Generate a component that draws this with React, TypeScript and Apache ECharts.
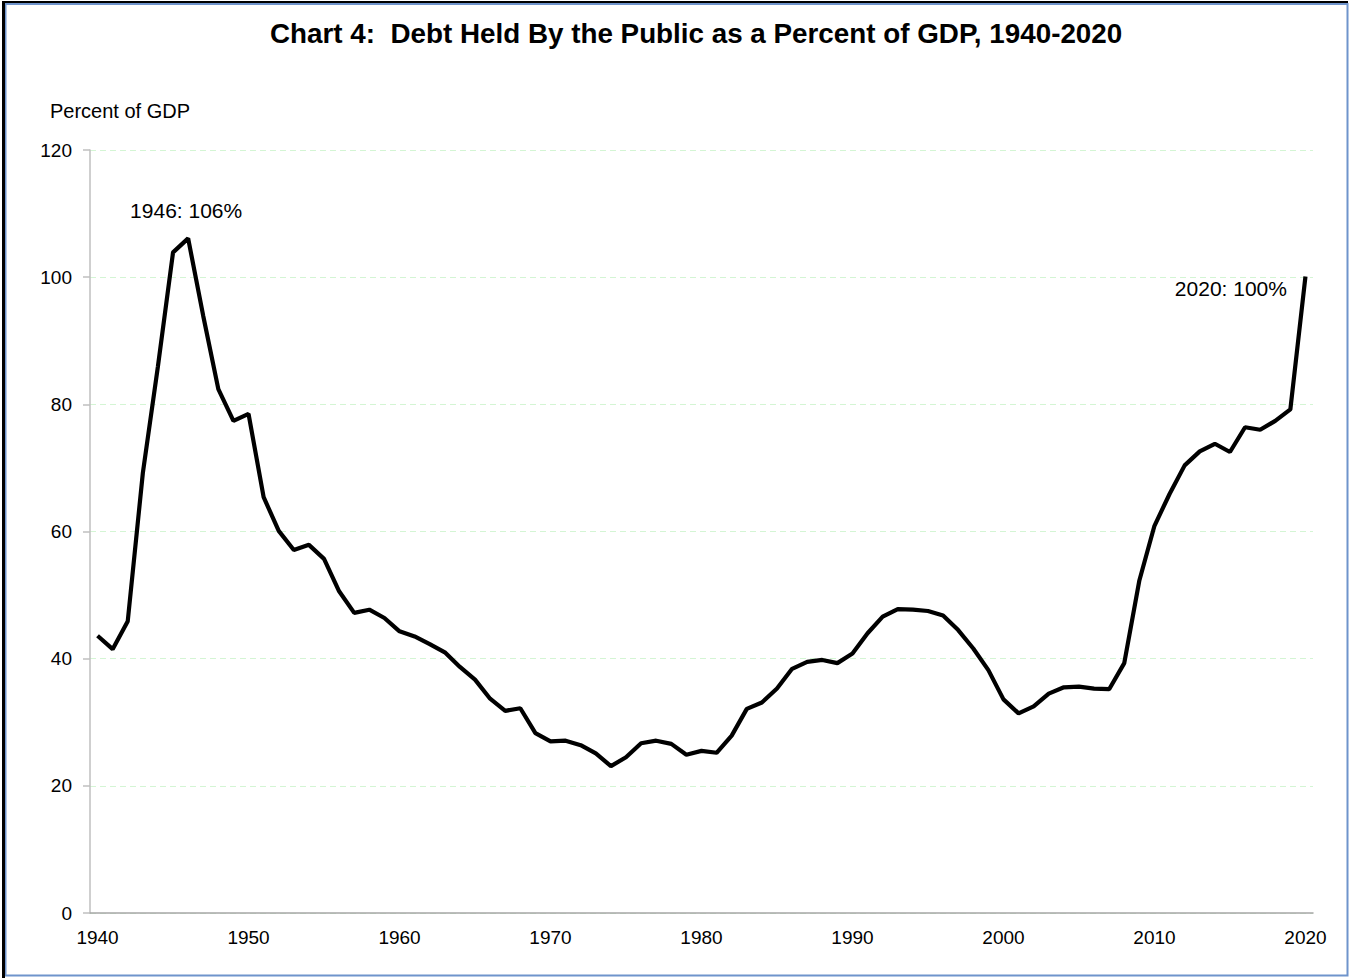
import React, { useEffect, useRef } from "react";
import * as echarts from "echarts";

const years: string[] = [];
for (let y = 1940; y <= 2020; y++) years.push(String(y));

const debtPct: number[] = [
  43.6, 41.5, 45.9, 69.2, 86.0, 103.9, 106.1, 93.9, 82.4, 77.4,
  78.5, 65.4, 60.1, 57.1, 57.9, 55.7, 50.6, 47.2, 47.7, 46.4,
  44.3, 43.5, 42.3, 41.0, 38.7, 36.7, 33.7, 31.8, 32.2, 28.3,
  27.0, 27.1, 26.4, 25.1, 23.1, 24.5, 26.7, 27.1, 26.6, 24.9,
  25.5, 25.2, 27.9, 32.1, 33.1, 35.3, 38.4, 39.5, 39.8, 39.3,
  40.8, 44.0, 46.6, 47.8, 47.7, 47.5, 46.8, 44.5, 41.6, 38.2,
  33.6, 31.4, 32.5, 34.5, 35.5, 35.6, 35.3, 35.2, 39.3, 52.3,
  60.9, 65.9, 70.4, 72.6, 73.8, 72.5, 76.4, 76.0, 77.4, 79.2,
  100.1,
];

const yTicks = { min: 0, max: 120, interval: 20 };
const titleText = "Chart 4:  Debt Held By the Public as a Percent of GDP, 1940-2020";
const yAxisTitle = "Percent of GDP";
const annotations = [
  { name: "1946: 106%", year: "1946", value: 106.1 },
  { name: "2020: 100%", year: "2020", value: 100.1 },
];

const FONT = "'Liberation Sans', Arial, Helvetica, sans-serif";

export default function App() {
  const ref = useRef<HTMLDivElement>(null);
  useEffect(() => {
    document.body.style.margin = "0";
    if (!ref.current) return;
    const chart = echarts.init(ref.current, undefined, { renderer: "svg" });
    chart.setOption({
      animation: false,
      backgroundColor: "#ffffff",
      textStyle: { fontFamily: FONT },
      title: {
        text: titleText,
        left: 265,
        top: 14,
        textStyle: { fontFamily: FONT, fontSize: 27.8, fontWeight: "bold", color: "#000" },
      },
      grid: { left: 90, right: 39, top: 150, bottom: 65, containLabel: false },
      xAxis: {
        type: "category",
        data: years,
        boundaryGap: true,
        axisLine: { show: true, lineStyle: { color: "#a6a6a6", width: 1.5 } },
        axisTick: { show: false },
        splitLine: { show: false },
        axisLabel: {
          interval: (i: number) => i % 10 === 0,
          color: "#000",
          fontSize: 19,
          fontFamily: FONT,
          margin: 15,
        },
      },
      yAxis: {
        type: "value",
        min: yTicks.min,
        max: yTicks.max,
        interval: yTicks.interval,
        axisLine: { show: true, lineStyle: { color: "#bfbfbf", width: 1.5 } },
        axisTick: { show: true, length: 7, lineStyle: { color: "#bfbfbf", width: 1.5 } },
        splitLine: { show: true, lineStyle: { color: "#d4f5d4", type: [6, 4], width: 1 } },
        axisLabel: { color: "#000", fontSize: 19, fontFamily: FONT, margin: 18 },
      },
      series: [
        {
          type: "line",
          data: debtPct,
          showSymbol: false,
          symbol: "none",
          lineStyle: { color: "#000", width: 4.2 },
          markPoint: {
            symbol: "circle",
            symbolSize: 1,
            itemStyle: { color: "rgba(0,0,0,0)" },
            data: [
              {
                name: annotations[0].name,
                coord: [annotations[0].year, annotations[0].value],
                label: { position: "top", distance: 17, offset: [-2, 0] },
              },
              {
                name: annotations[1].name,
                coord: [annotations[1].year, annotations[1].value],
                label: { position: "left", distance: 18, offset: [0, 12] },
              },
            ],
            label: {
              show: true,
              formatter: "{b}",
              color: "#000",
              fontSize: 21,
              fontFamily: FONT,
            },
          },
        },
      ],
      graphic: [
        {
          type: "text",
          left: 50,
          top: 101,
          style: { text: yAxisTitle, fontSize: 20, fontFamily: FONT, fill: "#000" },
        },
        {
          type: "rect",
          shape: { x: 5.5, y: 4, width: 1342, height: 971.5 },
          style: { fill: "none", stroke: "#6f94cc", lineWidth: 2 },
          silent: true,
        },
        {
          type: "rect",
          shape: { x: 2, y: 1, width: 3, height: 977 },
          style: { fill: "#000" },
          silent: true,
        },
        {
          type: "rect",
          shape: { x: 2, y: 1, width: 1346, height: 2 },
          style: { fill: "#000" },
          silent: true,
        },
      ],
    });
    return () => chart.dispose();
  }, []);
  return (
    <div
      ref={ref}
      style={{ position: "absolute", left: 0, top: 0, width: 1352, height: 978 }}
    />
  );
}
